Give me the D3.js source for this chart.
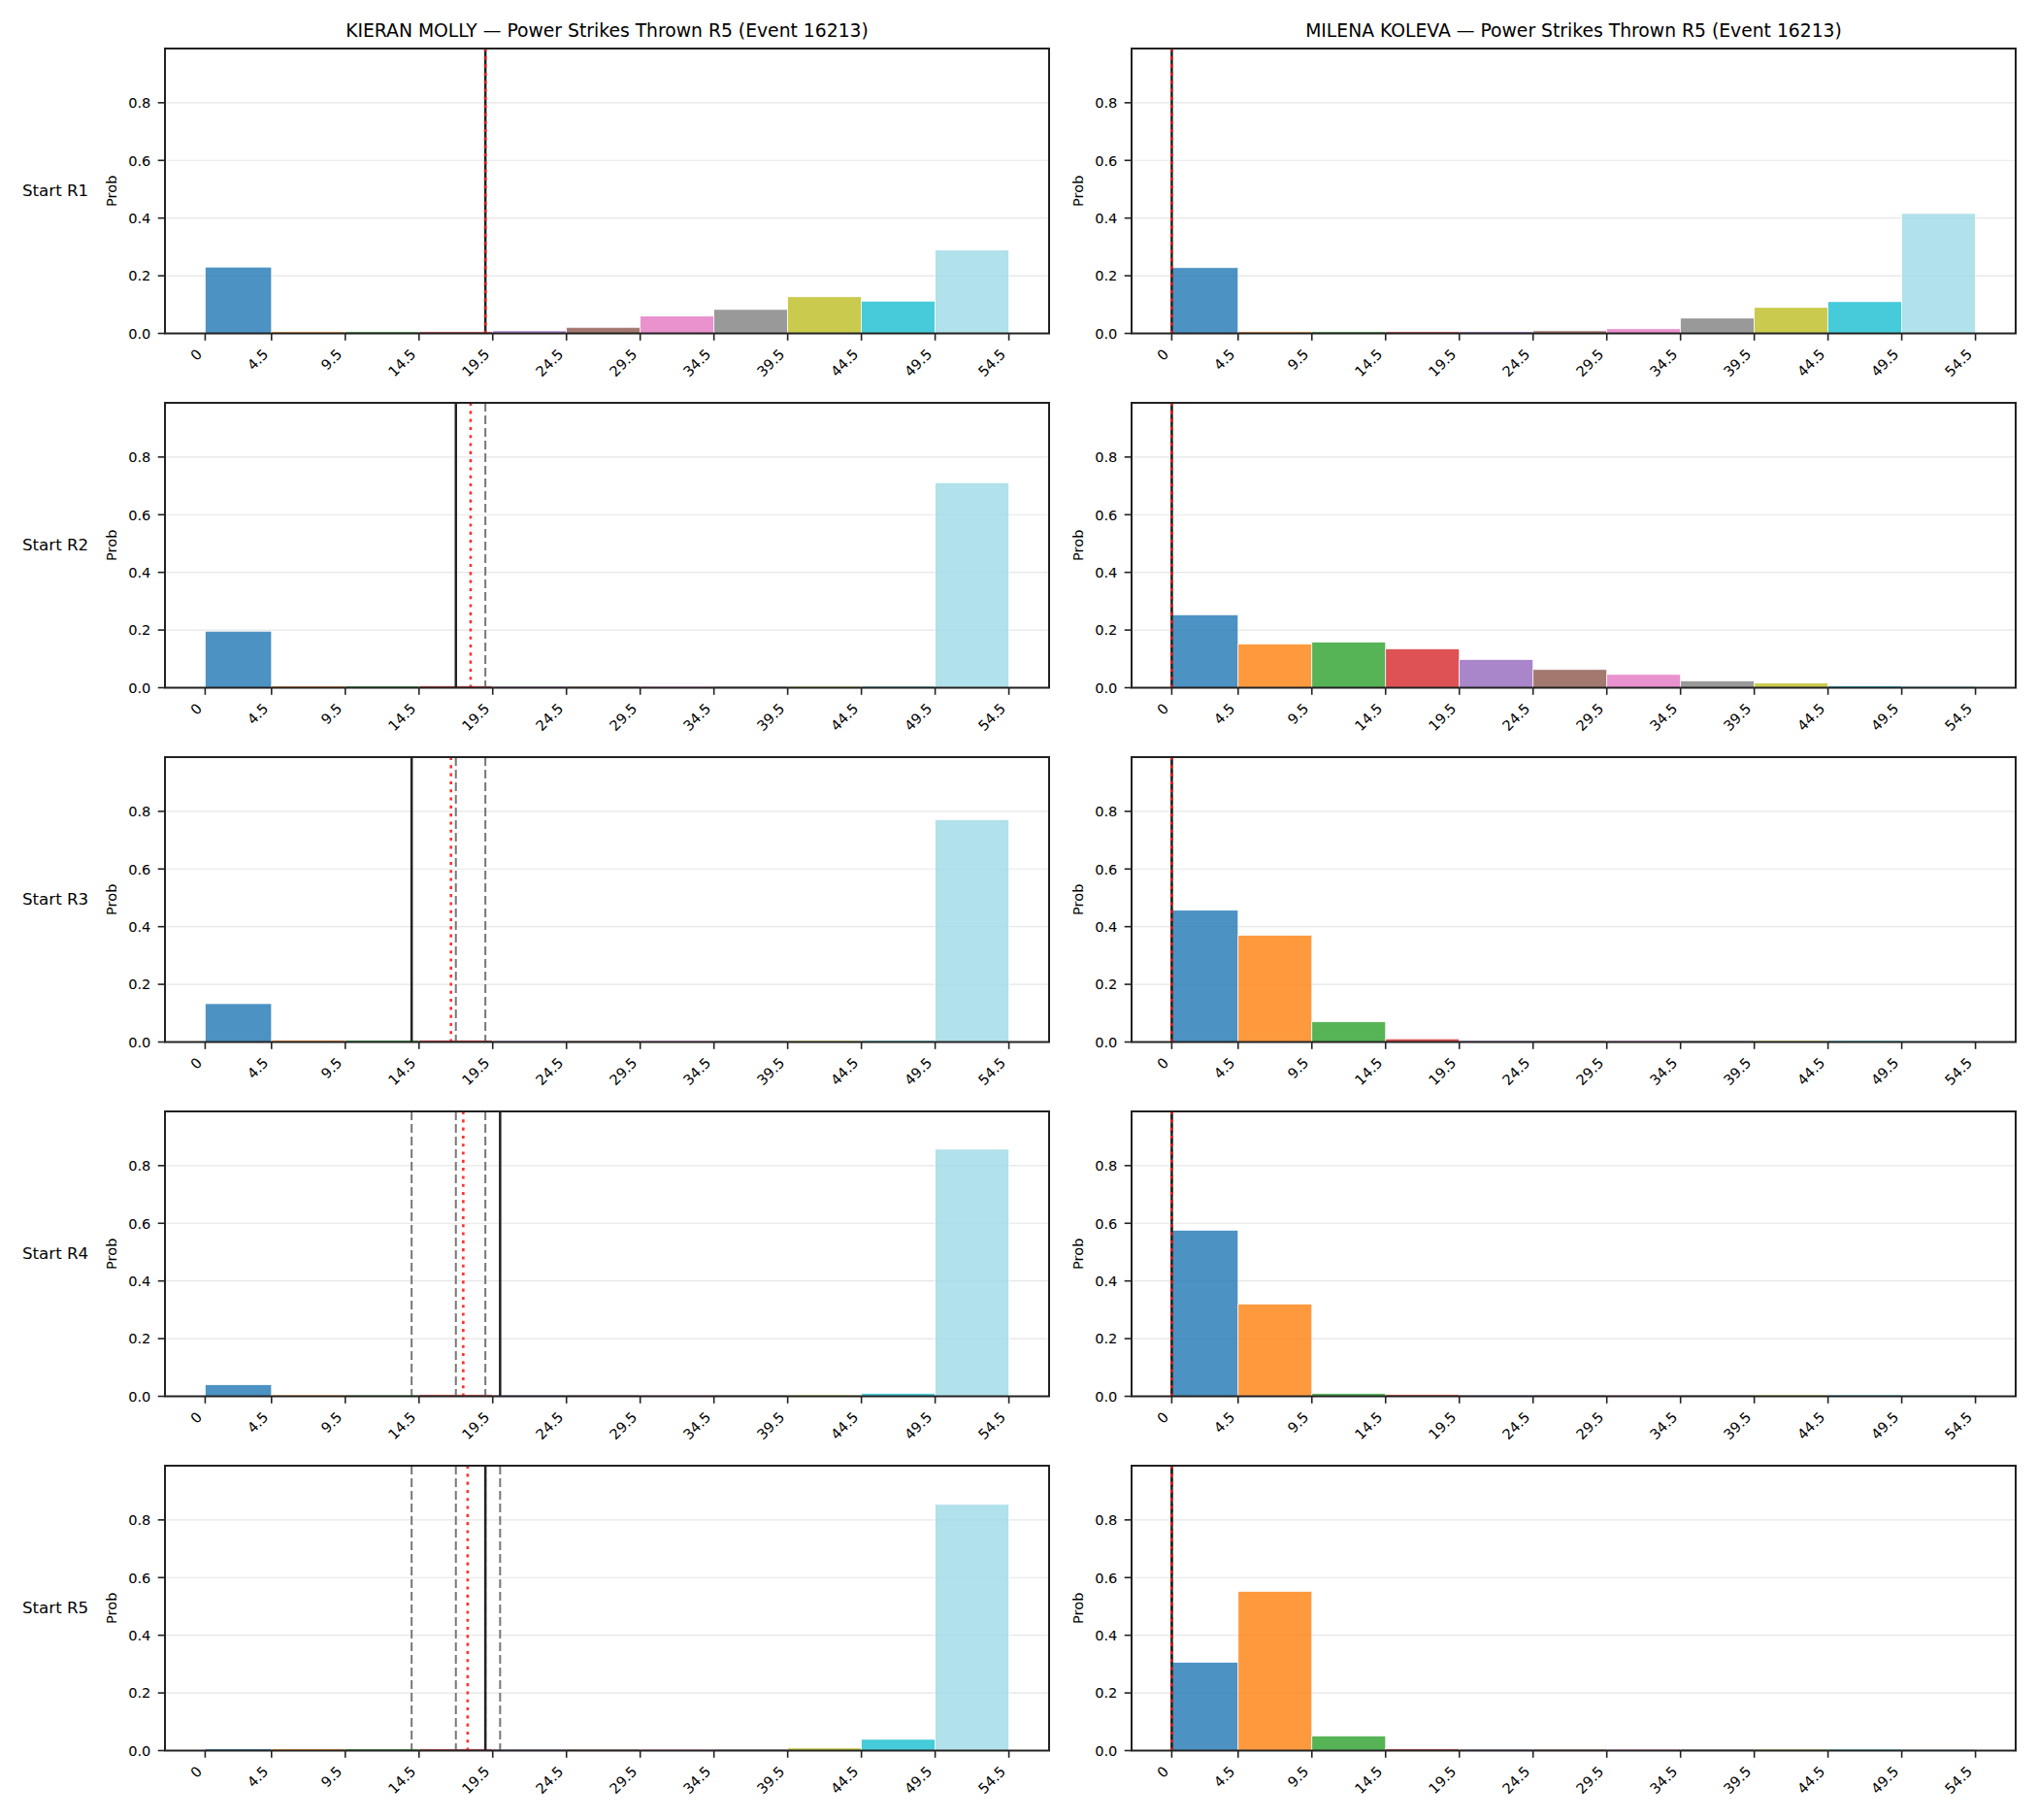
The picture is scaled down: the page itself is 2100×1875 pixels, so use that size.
<!DOCTYPE html>
<html>
<head>
<meta charset="utf-8">
<script src="https://cdn.jsdelivr.net/npm/d3@7"></script>
<style>
  body { margin: 0; background: #fff; }
  svg { display: block; font-family: "DejaVu Sans", sans-serif; }
</style>
</head>
<body>
<div id="chart"></div>
<script>
// data
var fighters = ["KIERAN MOLLY", "MILENA KOLEVA"];
var titleText = " — Power Strikes Thrown R5 (Event 16213)";
var rowLabels = ["Start R1", "Start R2", "Start R3", "Start R4", "Start R5"];
var binEdges = [0, 4.5, 9.5, 14.5, 19.5, 24.5, 29.5, 34.5, 39.5, 44.5, 49.5, 54.5];
var tickLabels = ["0", "4.5", "9.5", "14.5", "19.5", "24.5", "29.5", "34.5", "39.5", "44.5", "49.5", "54.5"];
var binColors = ["#1f77b4", "#ff7f0e", "#2ca02c", "#d62728", "#9467bd", "#8c564b",
                 "#e377c2", "#7f7f7f", "#bcbd22", "#17becf", "#9edae5"];
var yTicks = [0, 0.2, 0.4, 0.6, 0.8];
var yMax = 0.988;

// probability per bin, one row per starting round
var kieranProbs = [
  [0.230, 0.006, 0.006, 0.006, 0.009, 0.021, 0.060, 0.083, 0.127, 0.112, 0.289],
  [0.196, 0.006, 0.006, 0.007, 0.005, 0.005, 0.005, 0.005, 0.005, 0.005, 0.711],
  [0.133, 0.006, 0.006, 0.007, 0.005, 0.005, 0.005, 0.005, 0.005, 0.005, 0.771],
  [0.040, 0.005, 0.005, 0.006, 0.005, 0.005, 0.005, 0.005, 0.005, 0.010, 0.857],
  [0.006, 0.006, 0.006, 0.006, 0.005, 0.005, 0.005, 0.005, 0.009, 0.039, 0.854]
];
var milenaProbs = [
  [0.228, 0.006, 0.006, 0.006, 0.006, 0.009, 0.016, 0.053, 0.090, 0.110, 0.416],
  [0.253, 0.152, 0.158, 0.135, 0.098, 0.063, 0.046, 0.024, 0.016, 0.007, 0.006],
  [0.457, 0.370, 0.070, 0.011, 0.005, 0.005, 0.005, 0.005, 0.005, 0.005, 0.005],
  [0.576, 0.320, 0.010, 0.006, 0.005, 0.005, 0.005, 0.005, 0.005, 0.005, 0.005],
  [0.306, 0.552, 0.051, 0.006, 0.005, 0.005, 0.005, 0.005, 0.005, 0.005, 0.005]
];
// strikes actually thrown in each round (solid = this round, dashed = earlier ones)
var kieranObserved = [19, 17, 14, 20, 19];
var milenaObserved = [0, 0, 0, 0, 0];

var probs = [kieranProbs, milenaProbs];
var observed = [kieranObserved, milenaObserved];

var W = 2100, H = 1875;
var colLeft = [170, 1166];
var panelW = 911;
var firstRowTop = 50, rowStep = 365, panelH = 293.5;

var svg = d3.select("#chart").append("svg")
    .attr("width", W)
    .attr("height", H);

svg.append("rect").attr("width", W).attr("height", H).attr("fill", "#fff");

function drawPanel(c, r) {
    var x0 = colLeft[c];
    var yTop = firstRowTop + r * rowStep;
    var yBot = yTop + panelH;

    var x = d3.scaleLinear().domain([-2.725, 57.225]).range([x0, x0 + panelW]);
    var y = d3.scaleLinear().domain([0, yMax]).range([yBot, yTop]);

    var g = svg.append("g");

    // grid
    g.selectAll(".grid").data(yTicks.slice(1)).enter().append("line")
        .attr("x1", x0).attr("x2", x0 + panelW)
        .attr("y1", function(d) { return y(d); })
        .attr("y2", function(d) { return y(d); })
        .attr("stroke", "#e6e6e6")
        .attr("stroke-width", 1.2);

    // bars
    var vals = probs[c][r];
    g.selectAll(".bar").data(vals).enter().append("rect")
        .attr("x", function(d, i) { return x(binEdges[i]); })
        .attr("width", function(d, i) { return x(binEdges[i + 1]) - x(binEdges[i]); })
        .attr("y", function(d) { return y(d); })
        .attr("height", function(d) { return y(0) - y(d); })
        .attr("fill", function(d, i) { return binColors[i]; })
        .attr("fill-opacity", 0.8)
        .attr("stroke", "#fff")
        .attr("stroke-width", 0.7);

    // marker lines
    var obs = observed[c];
    var prev = obs.slice(0, r);
    var cur = obs[r];
    var avg = d3.mean(obs.slice(0, r + 1));

    g.selectAll(".prev").data(prev).enter().append("line")
        .attr("x1", function(d) { return x(d); })
        .attr("x2", function(d) { return x(d); })
        .attr("y1", yTop).attr("y2", yBot)
        .attr("stroke", "#777")
        .attr("stroke-width", 2)
        .attr("stroke-dasharray", "9,4");

    g.append("line")
        .attr("x1", x(cur)).attr("x2", x(cur))
        .attr("y1", yTop).attr("y2", yBot)
        .attr("stroke", "#222")
        .attr("stroke-width", 2.5);

    g.append("line")
        .attr("x1", x(avg)).attr("x2", x(avg))
        .attr("y1", yTop).attr("y2", yBot)
        .attr("stroke", "#ff1a1a")
        .attr("stroke-opacity", 0.9)
        .attr("stroke-width", 2.6)
        .attr("stroke-dasharray", "3.1,5.2");

    // x axis ticks
    g.selectAll(".xt").data(binEdges).enter().append("line")
        .attr("x1", function(d) { return x(d); })
        .attr("x2", function(d) { return x(d); })
        .attr("y1", yBot).attr("y2", yBot + 7.3)
        .attr("stroke", "#222")
        .attr("stroke-width", 1.6);

    g.selectAll(".xl").data(binEdges).enter().append("text")
        .attr("transform", function(d) {
            return "translate(" + (x(d) - 2.4) + "," + (yBot + 22.4) + ") rotate(-45)";
        })
        .attr("text-anchor", "end")
        .style("font-size", "14.6px")
        .attr("fill", "#000")
        .text(function(d, i) { return tickLabels[i]; });

    // y axis ticks
    g.selectAll(".yt").data(yTicks).enter().append("line")
        .attr("x1", x0 - 7.3).attr("x2", x0)
        .attr("y1", function(d) { return y(d); })
        .attr("y2", function(d) { return y(d); })
        .attr("stroke", "#222")
        .attr("stroke-width", 1.6);

    g.selectAll(".yl").data(yTicks).enter().append("text")
        .attr("x", x0 - 14.6)
        .attr("y", function(d) { return y(d); })
        .attr("dy", "0.36em")
        .attr("text-anchor", "end")
        .style("font-size", "14.6px")
        .attr("fill", "#000")
        .text(function(d) { return d.toFixed(1); });

    g.append("text")
        .attr("transform", "translate(" + (x0 - 55) + "," + ((yTop + yBot) / 2) + ") rotate(-90)")
        .attr("dy", "0.36em")
        .attr("text-anchor", "middle")
        .style("font-size", "14.6px")
        .attr("fill", "#000")
        .text("Prob");

    // frame
    g.append("rect")
        .attr("x", x0).attr("y", yTop)
        .attr("width", panelW).attr("height", panelH)
        .attr("fill", "none")
        .attr("stroke", "#222")
        .attr("stroke-width", 2);

    if (r === 0) {
        svg.append("text")
            .attr("x", x0 + panelW / 2)
            .attr("y", 38)
            .attr("text-anchor", "middle")
            .style("font-size", "18.75px")
            .attr("fill", "#000")
            .text(fighters[c] + titleText);
    }

    if (c === 0) {
        svg.append("text")
            .attr("x", 23)
            .attr("y", (yTop + yBot) / 2)
            .attr("dy", "0.3em")
            .style("font-size", "16.67px")
            .attr("fill", "#000")
            .text(rowLabels[r]);
    }
}

for (var c = 0; c < fighters.length; c++) {
    for (var r = 0; r < rowLabels.length; r++) {
        drawPanel(c, r);
    }
}
</script>
</body>
</html>
